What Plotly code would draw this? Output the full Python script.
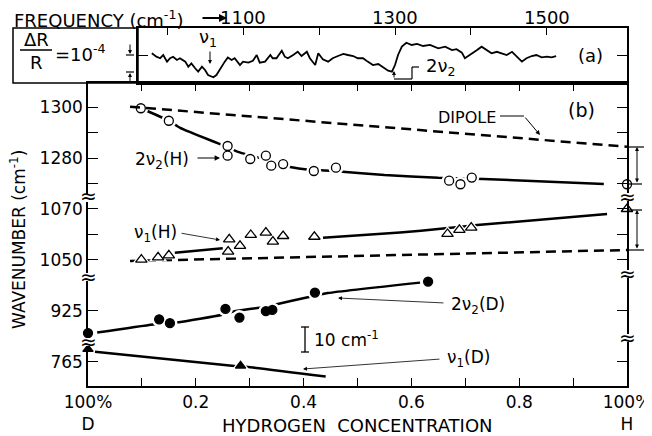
import plotly.graph_objects as go

FONT = "DejaVu Sans"

# ---------------- panel (a): reflectance-difference spectrum ----------------
freq_cm = [980, 986, 991, 995, 1000, 1004, 1008, 1013, 1017, 1024, 1028, 1032, 1037, 1041, 1046,
           1050, 1054, 1061, 1065, 1070, 1076, 1080, 1085, 1089, 1096, 1100, 1107, 1113, 1118,
           1122, 1129, 1136, 1139, 1144, 1151, 1155, 1159, 1166, 1172, 1177, 1184, 1188, 1195,
           1199, 1205, 1212, 1218, 1225, 1232, 1238, 1245, 1251, 1258, 1264, 1271, 1278, 1284,
           1291, 1296, 1300, 1304, 1309, 1315, 1322, 1329, 1337, 1346, 1357, 1366, 1375, 1381,
           1388, 1392, 1399, 1408, 1414, 1421, 1427, 1434, 1440, 1447, 1454, 1460, 1467, 1473,
           1480, 1486, 1493, 1500, 1506, 1512]
dr_1e4 = [0.10, -0.10, -0.19, 0.00, -0.39, -0.19, -0.10, -0.29, -0.19, -0.39, -0.69, -0.49, -0.78,
          -0.98, -0.69, -0.88, -1.18, -1.31, -1.18, -0.78, -0.39, -0.14, -0.29, -0.19, -0.59,
          -0.39, -0.45, -0.34, 0.00, -0.45, -0.39, 0.00, -0.19, -0.19, 0.25, -0.10, -0.19, 0.00,
          0.19, -0.06, 0.19, -0.19, -0.59, 0.10, -0.25, -0.39, -0.19, -0.06, 0.06, 0.00, -0.06,
          -0.19, -0.19, -0.39, -0.59, -0.53, -0.69, -0.92, -0.98, -0.59, 0.00, 0.49, 0.72, 0.59,
          0.65, 0.53, 0.59, 0.39, 0.49, 0.29, 0.34, 0.14, -0.19, 0.00, 0.29, 0.49, 0.29, 0.10,
          0.19, 0.10, 0.00, 0.19, -0.10, -0.39, -0.19, -0.06, 0.00, -0.14, -0.10, -0.14, -0.06]
freq_ticks = [1000, 1100, 1200, 1300, 1400, 1500]
freq_labels = [1100, 1300, 1500]

# ---------------- panel (b): wavenumber vs hydrogen concentration ----------------
conc_2v2H = [0.098, 0.150, 0.259, 0.259, 0.301, 0.330, 0.340, 0.362, 0.419, 0.460, 0.670, 0.691, 0.712, 1.0]
wn_2v2H = [1299.7, 1294.8, 1284.9, 1281.1, 1279.8, 1281.1, 1277.2, 1277.8, 1275.1, 1276.4, 1271.3, 1269.9, 1272.5, 1269.9]

conc_v1H = [0.099, 0.130, 0.150, 0.262, 0.260, 0.282, 0.302, 0.330, 0.343, 0.362, 0.420, 0.667, 0.689, 0.711, 1.0]
wn_v1H = [1050.1, 1051.0, 1051.8, 1058.1, 1053.3, 1055.5, 1059.8, 1060.7, 1057.2, 1059.4, 1059.1, 1060.2, 1061.8, 1062.7, 1070.0]

conc_2v2D = [0.0, 0.132, 0.152, 0.255, 0.281, 0.330, 0.342, 0.421, 0.631]
wn_2v2D = [916.3, 921.7, 920.2, 925.8, 922.4, 924.9, 925.4, 932.2, 936.5]

conc_v1D = [0.0, 0.283]
wn_v1D = [770.0, 763.5]

# dipole-model predictions (dashed)
conc_dip_2v2 = [0.078, 1.0]
wn_dip_2v2 = [1300.3, 1284.6]
conc_dip_v1 = [0.078, 1.0]
wn_dip_v1 = [1049.6, 1053.9]

# hand-drawn guide curves (solid)
fit_2v2H_x = [0.098, 0.150, 0.171, 0.249, 0.28, 0.33, 0.375, 0.41, 0.45, 0.55, 0.65, 0.733, 0.957]
fit_2v2H_y = [1299.7, 1294.8, 1292.0, 1285.3, 1282.5, 1279.5, 1276.7, 1275.6, 1275.2, 1273.5, 1272.4, 1272.0, 1270.0]
fit_v1H_x = [0.161, 0.25, None, 0.436, 0.579, 0.659, 0.722, 0.963]
fit_v1H_y = [1052.8, 1054.6, None, 1058.7, 1060.8, 1062.3, 1063.7, 1068.0]
fit_2v2D_x = [0.017, 0.121, 0.165, 0.249, 0.27, 0.325, 0.35, 0.41, 0.445, 0.616]
fit_2v2D_y = [916.5, 919.7, 920.5, 923.5, 924.8, 926.5, 927.6, 930.5, 932.0, 936.1]
fit_v1D_x = [0.013, 0.276, 0.294, 0.441]
fit_v1D_y = [769.0, 763.3, 763.1, 759.3]

conc_ticks = [0.0, 0.1, 0.2, 0.3, 0.4, 0.5, 0.6, 0.7, 0.8, 0.9, 1.0]
conc_ticktext = ["100%<br>D", "", "0.2", "", "0.4", "", "0.6", "", "0.8", "", "100%<br>H"]

# ---------------- geometry helpers (screen pixel -> paper) ----------------
OFF = 8                        # page body margin in the browser
L, R, T, B = 88, 627, 28, 386  # plot-area edges as seen on screen
def PX(x):
    return (x - L) / (R - L)
def PY(y):
    return (B - y) / (B - T)

fig = go.Figure()

# panel (a)
fig.add_trace(go.Scatter(x=freq_cm, y=dr_1e4, mode="lines", xaxis="x", yaxis="y",
                         line=dict(color="black", width=1.8), showlegend=False, hoverinfo="skip"))

# dipole dashed lines
fig.add_trace(go.Scatter(x=conc_dip_2v2, y=wn_dip_2v2, mode="lines", xaxis="x3", yaxis="y2",
                         line=dict(color="black", width=2.5, dash="10px,6px"), showlegend=False))
fig.add_trace(go.Scatter(x=conc_dip_v1, y=wn_dip_v1, mode="lines", xaxis="x2", yaxis="y3",
                         line=dict(color="black", width=2.5, dash="10px,6px"), showlegend=False))

# guide curves
for fx, fy, ya in [(fit_2v2H_x, fit_2v2H_y, "y2"), (fit_v1H_x, fit_v1H_y, "y3"),
                   (fit_2v2D_x, fit_2v2D_y, "y4"), (fit_v1D_x, fit_v1D_y, "y5")]:
    fig.add_trace(go.Scatter(x=fx, y=fy, mode="lines", xaxis="x2", yaxis=ya,
                             line=dict(color="black", width=2.5, shape="spline", smoothing=0.6),
                             connectgaps=False, showlegend=False))

series = [
    (conc_2v2H, wn_2v2H, "y2", "circle", "white", 9),
    (conc_v1H, wn_v1H, "y3", "triangle-up", "white", 10),
    (conc_2v2D, wn_2v2D, "y4", "circle", "black", 9),
    (conc_v1D, wn_v1D, "y5", "triangle-up", "black", 9),
]
# white halos so lines stop short of the symbols
for cx, cy, ya, sym, fill, sz in series:
    hx = [a for a in cx if 0 < a < 1]
    hy = [b for a, b in zip(cx, cy) if 0 < a < 1]
    fig.add_trace(go.Scatter(x=hx, y=hy, mode="markers", xaxis="x2", yaxis=ya,
                             marker=dict(symbol=sym, size=sz + 6, color="white", line=dict(width=0)),
                             showlegend=False, hoverinfo="skip"))
for cx, cy, ya, sym, fill, sz in series:
    fig.add_trace(go.Scatter(x=cx, y=cy, mode="markers", xaxis="x2", yaxis=ya, cliponaxis=False,
                             marker=dict(symbol=sym, size=sz, color=fill,
                                         line=dict(color="black", width=1.3)),
                             showlegend=False))

tickfont = dict(family=FONT, size=17, color="black")
common = dict(showgrid=False, zeroline=False, showline=True, linecolor="black", linewidth=1.5,
              ticks="inside", tickcolor="black", tickwidth=1.3, tickfont=tickfont,
              automargin=False)

seg_A = [PY(197), PY(83)]
seg_B = [PY(276), PY(197)]
seg_C = [PY(340), PY(276)]
seg_D = [0, PY(340)]

W, H = 652, 436
layout = dict(
    width=W, height=H, autosize=False,
    margin=dict(l=L - OFF, r=W - (R - OFF), t=T - OFF, b=H - (B - OFF), pad=0, autoexpand=False),
    paper_bgcolor="white", plot_bgcolor="rgba(0,0,0,0)",
    font=dict(family=FONT, color="black"),
    xaxis=dict(common, domain=[PX(138), 1], anchor="y", range=[961.8, 1605.3], side="top",
               tickvals=freq_ticks, showticklabels=False, ticklen=7, mirror=True),
    yaxis=dict(common, domain=[PY(83), 1], anchor="x", range=[-1.647, 1.588],
               tickvals=[0], showticklabels=False, ticklen=10, mirror="ticks"),
    xaxis2=dict(common, domain=[0, 1], anchor="y5", range=[0, 1], tickvals=conc_ticks,
                ticktext=conc_ticktext, ticklen=8),
    xaxis3=dict(common, domain=[0, 1], anchor="y2", range=[0, 1], matches="x2", side="top",
                tickvals=conc_ticks, showticklabels=False, ticklen=8),
    yaxis2=dict(common, domain=seg_A, anchor="x2", range=[1264.9, 1309.6],
                tickvals=[1270, 1280, 1290, 1300], ticktext=["", "1280", "", "1300"],
                ticklen=10, mirror="ticks"),
    yaxis3=dict(common, domain=seg_B, anchor="x2", range=[1043.7, 1074.7],
                tickvals=[1050, 1060, 1070], ticktext=["1050", "", "1070"],
                ticklen=10, mirror="ticks"),
    yaxis4=dict(common, domain=seg_C, anchor="x2", range=[913.6, 938.7],
                tickvals=[925], ticktext=["925"], ticklen=10, mirror="ticks"),
    yaxis5=dict(common, domain=seg_D, anchor="x2", range=[755.6, 773.6],
                tickvals=[765], ticktext=["765"], ticklen=10, mirror="ticks"),
)

shapes = []
def seg(x0, y0, x1, y1, w=1.5):
    shapes.append(dict(type="line", xref="paper", yref="paper", x0=PX(x0), y0=PY(y0),
                       x1=PX(x1), y1=PY(y1), line=dict(color="black", width=w), layer="above"))

# panel (a) label box
shapes.append(dict(type="rect", xref="paper", yref="paper", x0=PX(13), x1=PX(138),
                   y0=PY(83), y1=PY(28), line=dict(color="black", width=1.5)))
seg(20, 50, 52, 50, 1.5)          # fraction bar
seg(126, 55, 134, 55, 1.2)
seg(126, 72, 134, 72, 1.2)
# 2nu2 bracket in panel (a)
seg(394, 79, 412, 79, 1.2)
seg(412, 79, 412, 67, 1.2)
seg(412, 67, 419, 67, 1.2)
# DIPOLE leader
seg(500, 116, 524, 116, 1)
# 10 cm-1 scale bar
seg(305, 327, 305, 352, 1.3)
seg(301, 327, 309, 327, 1.3)
seg(301, 352, 309, 352, 1.3)
# right-hand difference markers
seg(627, 147, 647, 147, 1.2)
seg(627, 184, 642, 184, 1.2)
seg(627, 210, 642, 210, 1.2)
seg(627, 250, 647, 250, 1.2)
# axis-break masks
for bx, by in [(88, 198), (88, 277), (88, 342), (627, 197), (627, 274), (627, 338)]:
    shapes.append(dict(type="rect", xref="paper", yref="paper", x0=PX(bx - 4), x1=PX(bx + 4),
                       y0=PY(by + 4), y1=PY(by - 4), line=dict(width=0), fillcolor="white",
                       layer="above"))

annotations = []
def text(x, y, s, size=17, xanchor="center", **kw):
    annotations.append(dict(xref="paper", yref="paper", x=PX(x), y=PY(y), text=s, showarrow=False,
                            font=dict(family=FONT, size=size, color="black"),
                            xanchor=xanchor, yanchor="middle", **kw))
def arrow(xt, yt, xs, ys, w=1.0, head=2, size=1.0, side="end"):
    annotations.append(dict(xref="paper", yref="paper", x=PX(xt), y=PY(yt), text="",
                            showarrow=True, ax=xs - xt, ay=ys - yt, axref="pixel", ayref="pixel",
                            arrowhead=head, arrowsize=size, arrowwidth=w, arrowcolor="black",
                            arrowside=side, standoff=0, startstandoff=0))

# frequency tick labels of panel (a), placed above its top edge
for fv in freq_labels:
    annotations.append(dict(xref="x", yref="paper", x=fv, y=PY(18), text=str(fv),
                            showarrow=False, xanchor="center", yanchor="middle",
                            font=dict(family=FONT, size=18, color="black")))

# panel (a) texts
text(12, 19, "FREQUENCY (cm<sup>-1</sup>)", 18, xanchor="left")
arrow(227, 18, 201, 18, w=2.0, head=2, size=0.8)
text(36, 39, "ΔR", 18)
text(36, 63, "R", 18)
text(53, 53, "=10<sup>-4</sup>", 18, xanchor="left")
arrow(130, 54, 130, 43, w=1.0, head=2, size=0.8)
arrow(130, 73, 130, 83, w=1.0, head=2, size=0.8)
text(208, 38, "ν<sub>1</sub>", 18)
arrow(210, 64, 210, 50, w=1.0, head=2, size=0.8)
text(441, 67, "2ν<sub>2</sub>", 18)
arrow(394, 71, 394, 79, w=1.0, head=2, size=0.8)
text(590, 55, "(a)", 18)

# panel (b) texts
text(581, 110, "(b)", 19)
text(467, 117, "DIPOLE", 16)
arrow(540, 135, 524, 116, w=1.0, head=2, size=0.9)
text(162, 160, "2ν<sub>2</sub>(H)", 17)
arrow(220, 158, 196, 158, w=1.2, head=2, size=0.9)
text(155, 233, "ν<sub>1</sub>(H)", 17)
arrow(220, 240, 180, 233, w=0.8, head=2, size=1.0)
text(478, 305, "2ν<sub>2</sub>(D)", 17)
arrow(338, 298, 445, 303, w=0.8, head=2, size=1.0)
text(468, 358, "ν<sub>1</sub>(D)", 17)
arrow(303, 369, 441, 359, w=0.8, head=2, size=1.0)
text(312, 339, "10 cm<sup>-1</sup>", 17, xanchor="left")
arrow(637, 147, 637, 184, w=1.0, head=2, size=0.8, side="end+start")
arrow(637, 210, 637, 250, w=1.0, head=2, size=0.8, side="end+start")
text(18, 240, "WAVENUMBER (cm<sup>-1</sup>)", 17, textangle=-90)
text(357, 425, "HYDROGEN  CONCENTRATION", 18)
# axis break symbols
for bx, by in [(88, 196), (88, 277), (88, 342), (627, 197), (627, 274), (627, 338)]:
    text(bx, by, "≈", 20)

layout["shapes"] = shapes
layout["annotations"] = annotations
fig.update_layout(**layout)
fig.write_html("out.html")
